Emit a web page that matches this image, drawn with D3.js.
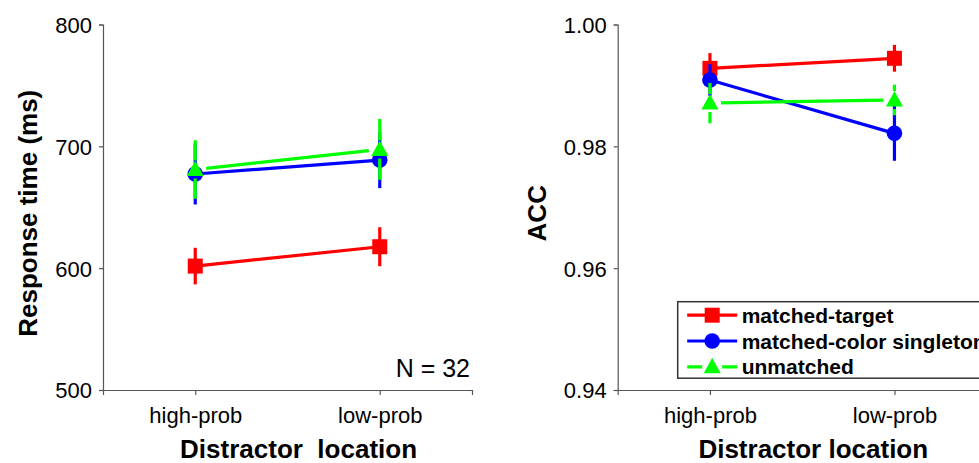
<!DOCTYPE html>
<html>
<head>
<meta charset="utf-8">
<script src="https://cdnjs.cloudflare.com/ajax/libs/d3/7.8.5/d3.min.js"></script>
<style>
  body { margin: 0; background: #fff; }
  svg { display: block; font-family: "Liberation Sans", Arial, sans-serif; }
</style>
</head>
<body>
<svg id="chart"></svg>
<script>
var screen = {width: 979, height: 463};

// categories and series
var categories = ["high-prob", "low-prob"];
var seriesNames = ["matched-target", "matched-color singleton", "unmatched"];
var seriesColors = ["#ff0000", "#0000ff", "#00ff00"];
var seriesShapes = ["square", "circle", "triangle"];

// response time (ms), means and error bars
var rtTarget = [601.7, 617.6];
var rtTargetErr = [15, 16];
var rtColor = [677.3, 688.7];
var rtColorErr = [25, 23];
var rtUnmatched = [681, 697.5];
var rtUnmatchedErr = [24, 25];

// accuracy, means and error bars
var accTarget = [0.9928, 0.99445];
var accTargetErr = [0.0025, 0.0022];
var accColor = [0.99089, 0.98213];
var accColorErr = [0.0026, 0.0045];
var accUnmatched = [0.9871, 0.9876];
var accUnmatchedErr = [0.0033, 0.0025];

var rtTicks = [500, 600, 700, 800];
var accTicks = [0.94, 0.96, 0.98, 1.00];

var svg = d3.select("#chart")
    .attr("width", screen.width)
    .attr("height", screen.height)

var panelW = 369, panelH = 365.5, panelTop = 24.5;

var makeSeries = function(means, errs)
{
    return means.map(function(m, i) { return {cat: categories[i], mean: m, err: errs[i]} })
}

var drawMarker = function(g, shape, color, x, y)
{
    if (shape == "square") {
        g.append("rect").attr("x", x - 7.5).attr("y", y - 7.5)
         .attr("width", 15).attr("height", 15).attr("fill", color)
    } else if (shape == "circle") {
        g.append("circle").attr("cx", x).attr("cy", y).attr("r", 7.8).attr("fill", color)
    } else {
        g.append("path")
         .attr("d", "M" + x + "," + (y - 9) + "L" + (x + 8.5) + "," + (y + 6.5) + "L" + (x - 8.5) + "," + (y + 6.5) + "Z")
         .attr("fill", color)
    }
}

var drawPanel = function(left, allSeries, domain, ticks, fmt, yTitle, xTitle, yTitleX)
{
    var g = svg.append("g").attr("transform", "translate(" + left + "," + panelTop + ")")

    var xScale = d3.scalePoint().domain(categories).range([0, panelW]).padding(0.5)
    var yScale = d3.scaleLinear().domain(domain).range([panelH, 0])

    var yAxis = d3.axisLeft(yScale).tickValues(ticks).tickFormat(fmt).tickSizeOuter(0).tickSize(4).tickPadding(7)
    var xAxis = d3.axisBottom(xScale).tickSizeOuter(0).tickSize(5).tickPadding(12)

    var ya = g.append("g").call(yAxis)
    var xa = g.append("g").attr("transform", "translate(0," + panelH + ")").call(xAxis)
    ;[ya, xa].forEach(function(a) {
        a.selectAll("path, line").attr("stroke", "#555").attr("stroke-width", 1.2)
        a.selectAll("text").attr("font-size", 22).attr("fill", "#000")
            .attr("font-family", "'Liberation Sans', Arial, sans-serif")
    })
    ya.selectAll("text").attr("dy", "0.36em")

    allSeries.forEach(function(data, s)
    {
        var color = seriesColors[s]
        var sg = g.append("g")
        var pts = data.map(function(d) { return [xScale(d.cat), yScale(d.mean)] })

        // connecting line
        var seg = sg.append("line")
            .attr("x1", pts[0][0]).attr("y1", pts[0][1])
            .attr("x2", pts[1][0]).attr("y2", pts[1][1])
            .attr("stroke", color).attr("stroke-width", 3.2)
        if (s == 2) {
            var len = Math.hypot(pts[1][0] - pts[0][0], pts[1][1] - pts[0][1])
            seg.attr("stroke-dasharray", "0,11," + (len - 22) + ",11")
        }

        // error bars
        data.forEach(function(d, i) {
            var x = xScale(d.cat), yc = yScale(d.mean)
            var ends = [yScale(d.mean + d.err), yScale(d.mean - d.err)]
            ends.forEach(function(ye) {
                var eb = sg.append("line")
                    .attr("x1", x).attr("y1", yc).attr("x2", x).attr("y2", ye)
                    .attr("stroke", color).attr("stroke-width", 3.2)
                if (s == 2) eb.attr("stroke-dasharray", "0,9,1000")
            })
        })

        data.forEach(function(d) {
            drawMarker(sg, seriesShapes[s], color, xScale(d.cat), yScale(d.mean))
        })
    })

    // axis titles
    svg.append("text")
        .attr("transform", "translate(" + yTitleX + "," + (panelTop + panelH / 2 + 6) + ") rotate(-90)")
        .attr("text-anchor", "middle")
        .attr("font-size", 26).attr("font-weight", "bold")
        .attr("dy", "0.35em")
        .text(yTitle)

    svg.append("text")
        .attr("x", left + panelW * 0.53).attr("y", 458)
        .attr("text-anchor", "middle")
        .attr("font-size", 26).attr("font-weight", "bold")
        .attr("xml:space", "preserve").style("white-space", "pre")
        .text(xTitle)

    return g
}

var rtSeries = [makeSeries(rtTarget, rtTargetErr), makeSeries(rtColor, rtColorErr), makeSeries(rtUnmatched, rtUnmatchedErr)]
var accSeries = [makeSeries(accTarget, accTargetErr), makeSeries(accColor, accColorErr), makeSeries(accUnmatched, accUnmatchedErr)]

drawPanel(103, rtSeries, [500, 800], rtTicks, d3.format("d"), "Response time (ms)", "Distractor  location", 28)
drawPanel(617.7, accSeries, [0.94, 1.00], accTicks, d3.format(".2f"), "ACC", "Distractor location", 537)

svg.append("text")
    .attr("x", 470).attr("y", 377)
    .attr("text-anchor", "end")
    .attr("font-size", 25)
    .text("N = 32")

// legend
var legend = svg.append("g").attr("id", "legend").attr("transform", "translate(677.7,301.7)")
legend.append("rect")
    .attr("width", 330).attr("height", 76.5)
    .attr("fill", "#fff").attr("stroke", "#333").attr("stroke-width", 1.5)

var rows = legend.selectAll("g.row")
    .data(seriesNames)
    .enter()
    .append("g")
    .attr("class", "row")
    .attr("transform", function(d, i) { return "translate(0," + (13.5 + i * 25.8) + ")" })

rows.each(function(d, i) {
    var r = d3.select(this)
    var ln = r.append("line").attr("x1", 9.5).attr("x2", 59.5).attr("y1", 0).attr("y2", 0)
        .attr("stroke", seriesColors[i]).attr("stroke-width", 3.2)
    if (i == 2) ln.attr("stroke-dasharray", "15,20,15")
    drawMarker(r, seriesShapes[i], seriesColors[i], 34.5, 0)
    r.append("text").attr("x", 64).attr("y", 7.5)
        .attr("font-size", 21).attr("font-weight", "bold")
        .text(d)
})
</script>
</body>
</html>
